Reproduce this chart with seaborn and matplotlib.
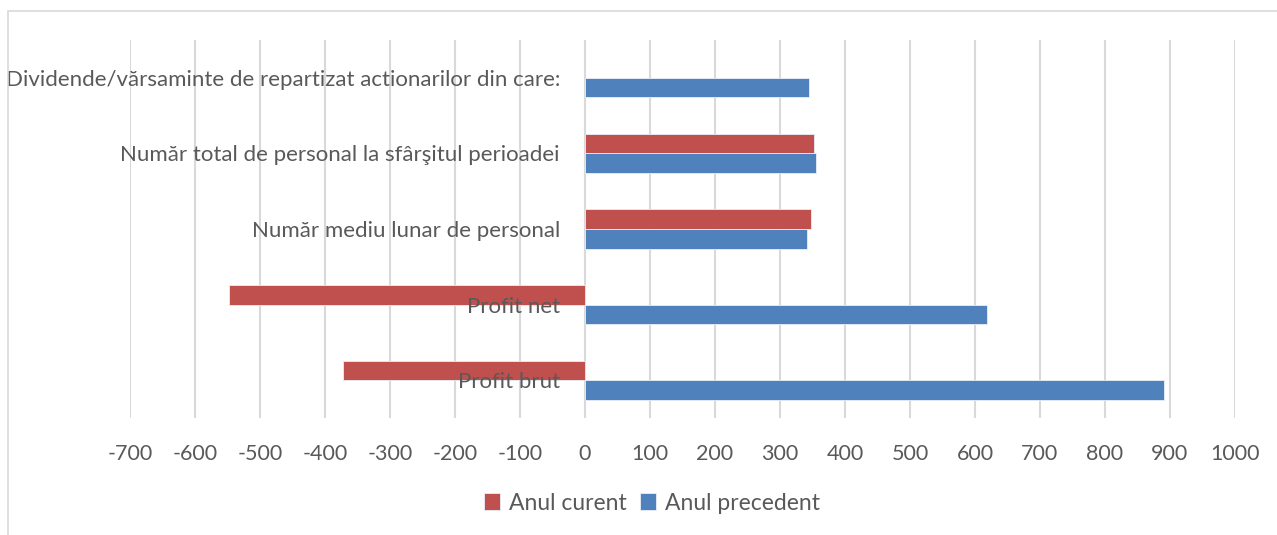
import pandas as pd
import matplotlib.pyplot as plt
import matplotlib.transforms as mtransforms
import seaborn as sns

# categories listed top to bottom as they appear on the chart
categories = [
    "Dividende/vărsaminte de repartizat actionarilor din care:",
    "Număr total de personal la sfârşitul perioadei",
    "Număr mediu lunar de personal",
    "Profit net",
    "Profit brut",
]
anul_curent = [None, 352, 348, -547, -372]
anul_precedent = [344, 356, 341, 618, 891]
series_names = ["Anul curent", "Anul precedent"]
x_ticks = list(range(-700, 1001, 100))

rows = []
for cat, cur, prev in zip(categories, anul_curent, anul_precedent):
    if cur is not None:
        rows.append({"cat": cat, "serie": series_names[0], "val": cur})
    rows.append({"cat": cat, "serie": series_names[1], "val": prev})
df = pd.DataFrame(rows)

sns.set_theme(style="white")
plt.rcParams["font.family"] = ["Lato", "DejaVu Sans"]
text_color = "#595959"
grid_color = "#D9D9D9"

fig = plt.figure(figsize=(12.77, 5.35), dpi=100)
ax = fig.add_axes([130 / 1277, 1 - 418 / 535, (1235 - 130) / 1277, (418 - 40) / 535])

sns.barplot(data=df, y="cat", x="val", hue="serie", order=categories,
            hue_order=series_names, palette=["#C0504D", "#4F81BD"], saturation=1,
            orient="h", width=0.52, gap=0, edgecolor="#E8EEF7", linewidth=0.6,
            ax=ax, legend=True)

ax.set_xlim(-700, 1000)
ax.set_ylim(len(categories) - 0.5, -0.5)
ax.set_xticks(x_ticks)
ax.set_xticklabels([str(t) for t in x_ticks], color=text_color, fontsize=15.5)
ax.tick_params(axis="x", length=0, pad=19)
ax.set_yticks([])
ax.set_xlabel("")
ax.set_ylabel("")
ax.grid(axis="x", color=grid_color, linewidth=1.5)
ax.set_axisbelow(True)
for s in ax.spines.values():
    s.set_visible(False)

# category labels sit just left of the zero line, like Excel does it
trans = mtransforms.offset_copy(ax.transData, fig=fig, x=-25, y=-2, units="dots")
for i, cat in enumerate(categories):
    ax.text(0, i, cat, transform=trans, ha="right", va="center",
            color=text_color, fontsize=16, zorder=5)

handles, labels = ax.get_legend_handles_labels()
ax.legend_.remove()
fig.legend(handles, labels, loc="center", bbox_to_anchor=(652 / 1277, 1 - 503 / 535),
           ncol=2, frameon=False, fontsize=16.5, labelcolor=text_color,
           handlelength=0.7, handleheight=0.8, handletextpad=0.4, columnspacing=0.6)

# light frame of the chart area (cut off at right and bottom)
fig.patches.append(plt.Rectangle((8 / 1277, -0.1), 1.2, 1 - 11 / 535 + 0.1,
                                 transform=fig.transFigure, fill=False,
                                 edgecolor=grid_color, linewidth=1.2))

plt.savefig("out.png", dpi=100)
plt.close()
